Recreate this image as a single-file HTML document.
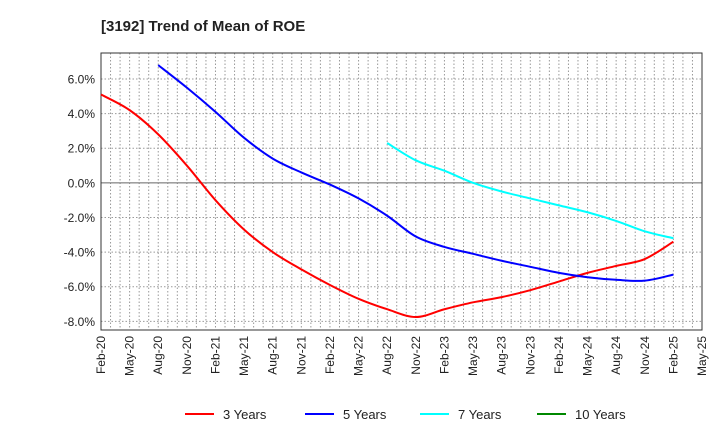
<!DOCTYPE html>
<html><head><meta charset="utf-8"><style>
body{margin:0;background:#fff;font-family:"Liberation Sans",sans-serif}
svg text{font-family:"Liberation Sans",sans-serif}
</style></head><body>
<svg width="720" height="440" xmlns="http://www.w3.org/2000/svg" id="chart">
<text x="101" y="31" font-size="15" font-weight="bold" fill="#222">[3192]  Trend of Mean of ROE</text>
<g id="grid"></g><g id="axes"></g><g id="series"></g><g id="legend"></g>
</svg>
<script>
const xLabels=["Feb-20","May-20","Aug-20","Nov-20","Feb-21","May-21","Aug-21","Nov-21","Feb-22","May-22","Aug-22","Nov-22","Feb-23","May-23","Aug-23","Nov-23","Feb-24","May-24","Aug-24","Nov-24","Feb-25","May-25"];
const yTicks=[6,4,2,0,-2,-4,-6,-8];
const series3=[5.1,4.2,2.8,1.0,-1.0,-2.7,-4.0,-5.0,-5.9,-6.7,-7.3,-7.75,-7.3,-6.9,-6.6,-6.2,-5.7,-5.2,-4.8,-4.4,-3.4];
const series5=[null,null,6.8,5.5,4.1,2.6,1.4,0.6,-0.1,-0.9,-1.9,-3.1,-3.7,-4.1,-4.5,-4.85,-5.2,-5.45,-5.6,-5.65,-5.3];
const series7=[null,null,null,null,null,null,null,null,null,null,2.3,1.3,0.7,0.0,-0.5,-0.9,-1.3,-1.7,-2.2,-2.8,-3.2];
const series10=[];
const L=101,R=702,T=53,B=330,yMax=7.5,yMin=-8.5,months=63;
const ns="http://www.w3.org/2000/svg";
const xm=m=>L+(R-L)*m/months;
const y=v=>T+(B-T)*(yMax-v)/(yMax-yMin);
function mk(tag,attrs,parent){const e=document.createElementNS(ns,tag);for(const k in attrs)e.setAttribute(k,attrs[k]);document.getElementById(parent).appendChild(e);return e;}
for(let m=1;m<months;m++){const l=mk('line',{x1:xm(m),x2:xm(m),y1:T,y2:B,stroke:'#999','stroke-dasharray':'1.5,2','stroke-width':1},'grid');

}
yTicks.forEach(v=>{const l=mk('line',{x1:L,x2:R,y1:y(v),y2:y(v),stroke:v===0?'#666':'#999','stroke-dasharray':v===0?'none':'1.5,2','stroke-width':1},'grid');


const t=mk('text',{x:L-6,y:y(v)+4.5,'text-anchor':'end','font-size':12,fill:'#222'},'axes');t.textContent=v.toFixed(1)+'%';

});
const box=mk('rect',{x:L,y:T,width:R-L,height:B-T,fill:'none',stroke:'#333','stroke-width':1},'axes');


xLabels.forEach((s,i)=>{const x=xm(i*3);const t=mk('text',{x:x+4,y:B+6,'text-anchor':'end','font-size':12,fill:'#222',transform:`rotate(-90 ${x+4} ${B+6})`},'axes');t.textContent=s;

});
function path(data,color,name){const pts=[];data.forEach((v,i)=>{if(v!==null&&v!==undefined)pts.push([xm(i*3),y(v)]);});if(pts.length<2)return;
let d=`M${pts[0][0]},${pts[0][1]}`;
for(let i=0;i<pts.length-1;i++){const p0=pts[Math.max(0,i-1)],p1=pts[i],p2=pts[i+1],p3=pts[Math.min(pts.length-1,i+2)];
d+=` C${p1[0]+(p2[0]-p0[0])/6},${p1[1]+(p2[1]-p0[1])/6} ${p2[0]-(p3[0]-p1[0])/6},${p2[1]-(p3[1]-p1[1])/6} ${p2[0]},${p2[1]}`;}
const e=mk('path',{d:d,fill:'none',stroke:color,'stroke-width':2},'series');

}
path(series3,'#f00','line-3-years');path(series5,'#00f','line-5-years');path(series7,'#0ff','line-7-years');path(series10,'#080','line-10-years');
const leg=[["3 Years","#f00",185],["5 Years","#00f",305],["7 Years","#0ff",420],["10 Years","#080",537]];
leg.forEach(([s,c,x])=>{const l=mk('line',{x1:x,x2:x+29,y1:414,y2:414,stroke:c,'stroke-width':2},'legend');


const t=mk('text',{x:x+38,y:419,'font-size':13,fill:'#222'},'legend');t.textContent=s;

});
</script>
</body></html>
